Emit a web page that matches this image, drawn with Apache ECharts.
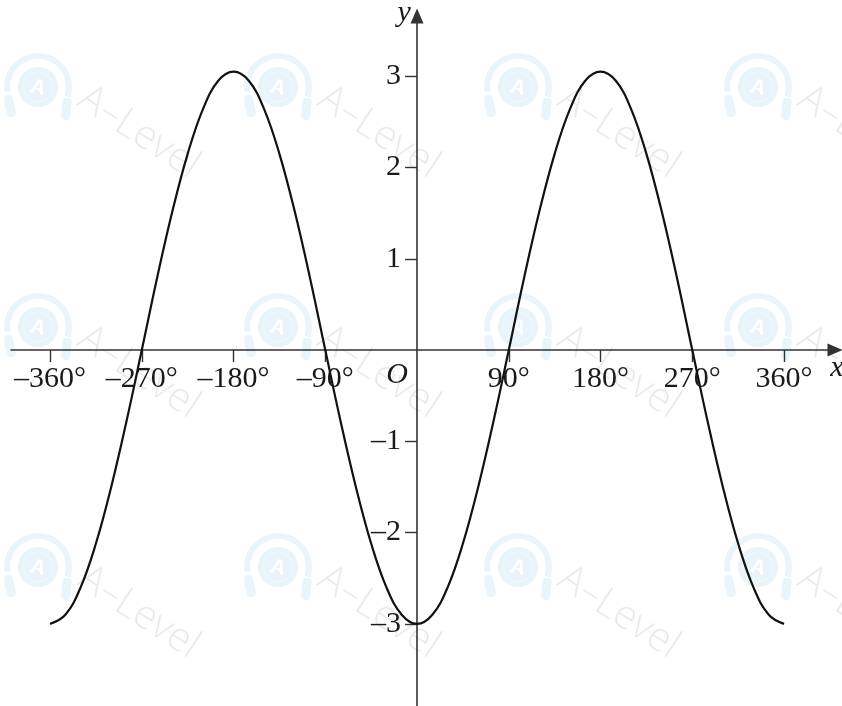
<!DOCTYPE html>
<html>
<head>
<meta charset="utf-8">
<script src="https://cdn.jsdelivr.net/npm/echarts@6/dist/echarts.min.js"></script>
<style>
  html, body { margin: 0; padding: 0; background: #fff; }
  #chart { width: 842px; height: 706px; }
</style>
</head>
<body>
<div id="chart"></div>
<script>
// Curve samples (degrees, y)
const xDegrees = [-360, -345, -330, -315, -300, -285, -270, -255, -240, -225, -210, -195, -180,
  -165, -150, -135, -120, -105, -90, -75, -60, -45, -30, -15, 0,
  15, 30, 45, 60, 75, 90, 105, 120, 135, 150, 165, 180,
  195, 210, 225, 240, 255, 270, 285, 300, 315, 330, 345, 360];
const yValues = [-3, -2.9, -2.6, -2.12, -1.5, -0.78, 0, 0.79, 1.52, 2.15, 2.64, 2.95, 3.05,
  2.95, 2.64, 2.15, 1.52, 0.79, 0, -0.78, -1.5, -2.12, -2.6, -2.9, -3,
  -2.9, -2.6, -2.12, -1.5, -0.78, 0, 0.79, 1.52, 2.15, 2.64, 2.95, 3.05,
  2.95, 2.64, 2.15, 1.52, 0.79, 0, -0.78, -1.5, -2.12, -2.6, -2.9, -3];

// Tick marks and labels
const xTickValues = [-360, -270, -180, -90, 90, 180, 270, 360];
const yTickValues = [-3, -2, -1, 1, 2, 3];

// Visible ranges of the two axes
const xRange = [-398.3, 410];
const yRange = [-3.9, 3.66];

const serif = '"Liberation Serif", "DejaVu Serif", serif';
const axisColor = '#333';
const labelColor = '#1a1a1a';
const fontSize = 30;

const gridBox = { left: 11, right: 7, top: 16, bottom: 0 };
const W = 842, H = 706;
const gridW = W - gridBox.left - gridBox.right;
const gridH = H - gridBox.top - gridBox.bottom;

// Shift the axes from the grid edges onto the zero lines (labels travel with them)
const xAxisOffset = -gridH * (0 - yRange[0]) / (yRange[1] - yRange[0]);
const yAxisOffset = -gridW * (0 - xRange[0]) / (xRange[1] - xRange[0]);

const chart = echarts.init(document.getElementById('chart'), null, { renderer: 'canvas' });

const curve = xDegrees.map((x, i) => [x, yValues[i]]);

function signed(v) {
  return v < 0 ? '\u2013' + Math.abs(v) : String(v);
}

// Faint "A–Level" stamps tiled over the background
function stamp(cx, cy) {
  return {
    type: 'group',
    x: cx, y: cy,
    silent: true,
    z: 0,
    children: [
      { type: 'arc', shape: { cx: 0, cy: 0, r: 31, startAngle: Math.PI * 0.95, endAngle: Math.PI * 2.1 },
        style: { stroke: '#e9f4fb', lineWidth: 6, fill: null } },
      { type: 'rect', shape: { x: -36, y: 2, width: 9, height: 22, r: 4 }, rotation: 0.2,
        style: { fill: '#e9f4fb' } },
      { type: 'rect', shape: { x: 26, y: 8, width: 9, height: 22, r: 4 }, rotation: -0.1,
        style: { fill: '#e9f4fb' } },
      { type: 'circle', shape: { cx: 0, cy: 0, r: 20 }, style: { fill: '#e8f3fa' } },
      { type: 'circle', shape: { cx: 0, cy: 0, r: 15 }, style: { fill: null, stroke: '#f3f9fd', lineWidth: 1 } },
      { type: 'text', x: 0, y: 1, rotation: -0.3,
        style: { text: 'A', fill: '#ffffff', font: 'bold 20px "Open Sans", sans-serif', align: 'center', verticalAlign: 'middle' } },
      { type: 'text', x: 44, y: 8, rotation: -0.58,
        style: { text: 'A\u2013Level', fill: '#ebebeb', font: '300 40px "Open Sans", sans-serif', align: 'left', verticalAlign: 'middle' } }
    ]
  };
}

const stamps = [];
[87, 327, 567].forEach(cy => {
  [38, 278, 518, 758].forEach(cx => stamps.push(stamp(cx, cy)));
});

chart.setOption({
  animation: false,
  backgroundColor: '#fff',
  grid: Object.assign({ containLabel: false, outerBoundsMode: 'none' }, gridBox),
  xAxis: {
    type: 'value',
    min: xRange[0],
    max: xRange[1],
    position: 'bottom',
    offset: xAxisOffset,
    axisLine: {
      onZero: false,
      symbol: ['none', 'triangle'],
      symbolSize: [13, 15],
      lineStyle: { color: axisColor, width: 1.6 }
    },
    axisTick: { show: true, inside: false, customValues: xTickValues, length: 12, lineStyle: { color: axisColor, width: 1.4 } },
    axisLabel: {
      customValues: xTickValues,
      formatter: v => signed(v) + '\u00B0',
      fontFamily: serif,
      fontSize: fontSize,
      color: labelColor,
      margin: 14
    },
    splitLine: { show: false }
  },
  yAxis: {
    type: 'value',
    min: yRange[0],
    max: yRange[1],
    position: 'left',
    offset: yAxisOffset,
    axisLine: {
      show: true,
      onZero: false,
      symbol: ['none', 'triangle'],
      symbolSize: [13, 15],
      lineStyle: { color: axisColor, width: 1.6 }
    },
    axisTick: { show: true, inside: false, customValues: yTickValues, length: 12, lineStyle: { color: axisColor, width: 1.4 } },
    axisLabel: {
      customValues: yTickValues,
      formatter: v => signed(v),
      fontFamily: serif,
      fontSize: fontSize,
      color: labelColor,
      margin: 16
    },
    splitLine: { show: false }
  },
  graphic: stamps,
  series: [{
    type: 'line',
    data: curve,
    smooth: 0.4,
    showSymbol: false,
    lineStyle: { color: '#111', width: 2.2 },
    z: 5
  }]
});

// Axis names and origin, placed from the axis scales
const origin = chart.convertToPixel({ gridIndex: 0 }, [0, 0]);
const xEnd = chart.convertToPixel({ gridIndex: 0 }, [xRange[1], 0]);
const yEnd = chart.convertToPixel({ gridIndex: 0 }, [0, yRange[1]]);
const italic = 'italic ' + fontSize + 'px ' + serif;
chart.setOption({
  graphic: stamps.concat([
    { type: 'text', x: origin[0] - 20, y: origin[1] + 25, z: 10,
      style: { text: 'O', font: italic, fill: labelColor, align: 'center', verticalAlign: 'middle' } },
    { type: 'text', x: xEnd[0] + 2, y: xEnd[1] + 18, z: 10,
      style: { text: 'x', font: italic, fill: labelColor, align: 'center', verticalAlign: 'middle' } },
    { type: 'text', x: yEnd[0] - 13, y: yEnd[1] - 3, z: 10,
      style: { text: 'y', font: italic, fill: labelColor, align: 'center', verticalAlign: 'middle' } }
  ])
});
</script>
</body>
</html>
